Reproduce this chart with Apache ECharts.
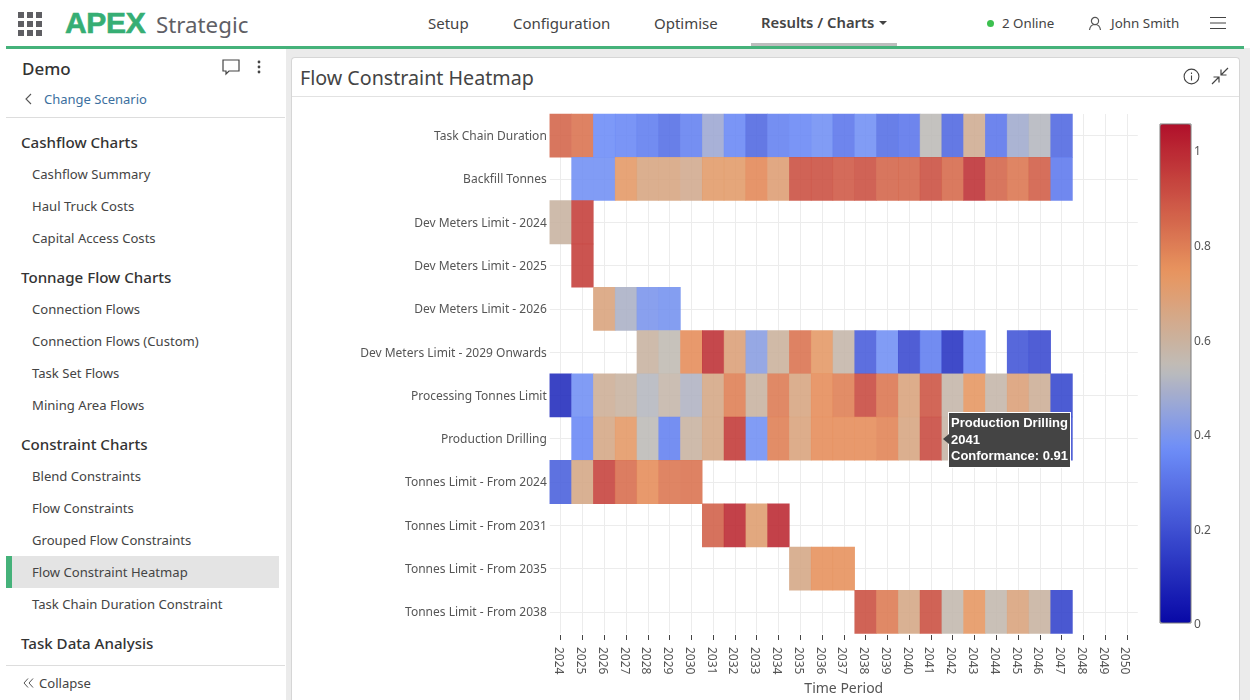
<!DOCTYPE html>
<html><head><meta charset="utf-8">
<script src="https://cdn.jsdelivr.net/npm/echarts@6/dist/echarts.min.js"></script>
<style>
html,body{margin:0;padding:0;width:1250px;height:700px;overflow:hidden;background:#fff;font-family:"Noto Sans",sans-serif;color:#444}
.a{position:absolute;white-space:nowrap}
#chart{position:absolute;left:0;top:0;width:1250px;height:700px;z-index:5}
.h{font-size:15.1px;font-weight:500;color:#333;line-height:22px}
.i{font-size:13.1px;color:#444;line-height:18px}
.n{font-size:15px;color:#444}
</style></head><body>
<div class="a" style="left:286px;top:48px;width:964px;height:652px;background:#ebebeb"></div>
<div class="a" style="left:291px;top:57px;width:947px;height:643px;background:#fff;border-radius:4px 4px 0 0;border:1px solid #d6d6d6;border-bottom:0"></div>
<div class="a" style="left:292px;top:96px;width:947px;height:1px;background:#e2e2e2"></div>
<div class="a" style="left:6px;top:46px;width:1238px;height:3px;background:#45b27a"></div>
<svg class="a" style="left:18px;top:12px" width="24" height="24" fill="#5f5f63"><rect x="0" y="0" width="6" height="6"/><rect x="9" y="0" width="6" height="6"/><rect x="18" y="0" width="6" height="6"/><rect x="0" y="9" width="6" height="6"/><rect x="9" y="9" width="6" height="6"/><rect x="18" y="9" width="6" height="6"/><rect x="0" y="18" width="6" height="6"/><rect x="9" y="18" width="6" height="6"/><rect x="18" y="18" width="6" height="6"/></svg>
<div class="a" style="left:65px;top:3px;font:bold 30px 'Liberation Sans';color:#36ae74;line-height:40px;letter-spacing:-.3px;-webkit-text-stroke:.6px #36ae74">APEX</div>
<div class="a" style="left:156px;top:6px;font-size:22.3px;line-height:38px;color:#5f5f66">Strategic</div>
<div class="a n" style="left:428px;top:13px">Setup</div>
<div class="a n" style="left:513px;top:13px">Configuration</div>
<div class="a n" style="left:654px;top:13px">Optimise</div>
<div class="a n" style="left:761px;top:12px;font-weight:600;font-size:14.8px">Results / Charts</div>
<div class="a" style="left:879px;top:21px;width:0;height:0;border:4px solid transparent;border-top-color:#444"></div>
<div class="a" style="left:751px;top:43px;width:146px;height:3px;background:#bdbdbd"></div>
<div class="a" style="left:987px;top:20px;width:7px;height:7px;border-radius:50%;background:#3cc04f"></div>
<div class="a" style="left:1002px;top:14px;font-size:13.3px">2 Online</div>
<svg class="a" style="left:1088px;top:16px" width="14" height="15" fill="none" stroke="#555" stroke-width="1.2"><circle cx="7" cy="5" r="3.6"/><path d="M1.5 14c.5-4 2.500-5.500 5.500-5.500s5 1.500 5.500 5.500"/></svg>
<div class="a" style="left:1111px;top:14px;font-size:13.4px">John Smith</div>
<svg class="a" style="left:1210px;top:16px" width="16" height="14" stroke="#444" stroke-width="1.2"><path d="M0 1.500h16M0 7h16M0 12.500h16"/></svg>

<div class="a" style="left:22px;top:57px;font-size:17px;font-weight:500;color:#333">Demo</div>
<svg class="a" style="left:222px;top:59px" width="18" height="17" fill="none" stroke="#444" stroke-width="1.2"><path d="M1 1h16v11H7l-3 3v-3H1z"/></svg>
<svg class="a" style="left:257px;top:60px" width="4" height="14" fill="#444"><circle cx="2" cy="2" r="1.400"/><circle cx="2" cy="7" r="1.400"/><circle cx="2" cy="12" r="1.400"/></svg>
<svg class="a" style="left:25px;top:93px" width="7" height="12" fill="none" stroke="#555" stroke-width="1.100"><path d="M6 1L1 6l5 5"/></svg>
<div class="a" style="left:44px;top:90px;font-size:13px;line-height:18px;color:#3b6f9e">Change Scenario</div>
<div class="a" style="left:6px;top:117px;width:279px;height:1px;background:#ddd"></div>
<div class="a h" style="left:21px;top:131px">Cashflow Charts</div>
<div class="a i" style="left:32px;top:165px">Cashflow Summary</div>
<div class="a i" style="left:32px;top:197px">Haul Truck Costs</div>
<div class="a i" style="left:32px;top:229px">Capital Access Costs</div>
<div class="a h" style="left:21px;top:266px">Tonnage Flow Charts</div>
<div class="a i" style="left:32px;top:300px">Connection Flows</div>
<div class="a i" style="left:32px;top:332px">Connection Flows (Custom)</div>
<div class="a i" style="left:32px;top:364px">Task Set Flows</div>
<div class="a i" style="left:32px;top:396px">Mining Area Flows</div>
<div class="a h" style="left:21px;top:433px">Constraint Charts</div>
<div class="a i" style="left:32px;top:467px">Blend Constraints</div>
<div class="a i" style="left:32px;top:499px">Flow Constraints</div>
<div class="a i" style="left:32px;top:531px">Grouped Flow Constraints</div>
<div class="a" style="left:6px;top:556px;width:273px;height:32px;background:#e4e4e4"></div>
<div class="a" style="left:6px;top:556px;width:6px;height:32px;background:#45b27a"></div>
<div class="a i" style="left:32px;top:563px">Flow Constraint Heatmap</div>
<div class="a i" style="left:32px;top:595px">Task Chain Duration Constraint</div>
<div class="a h" style="left:21px;top:632px">Task Data Analysis</div>
<div class="a" style="left:6px;top:665px;width:279px;height:1px;background:#ddd"></div>
<svg class="a" style="left:23px;top:678px" width="11" height="10" fill="none" stroke="#555"><path d="M5 .5L1 5l4 4.500M10 .5L6 5l4 4.500"/></svg>
<div class="a i" style="left:39px;top:674px">Collapse</div>

<div class="a" style="left:300px;top:64px;font-size:19.66px;line-height:27px;color:#444">Flow Constraint Heatmap</div>
<svg class="a" style="left:1183px;top:68px" width="17" height="17" fill="none" stroke="#444" stroke-width="1.100"><circle cx="8.500" cy="8.500" r="7.400"/><path d="M8.500 7.500v5M8.500 4.500v1.500"/></svg>
<svg class="a" style="left:1211px;top:67px" width="18" height="18" fill="none" stroke="#444" stroke-width="1.200"><path d="M17 1l-7 7M10 2.500v5.500h5.500M1 17l7-7M8 15.500v-5.500H2.500"/></svg>
<div id="chart"></div>
<script>
const years = [2024,2025,2026,2027,2028,2029,2030,2031,2032,2033,2034,2035,2036,2037,2038,2039,2040,2041,2042,2043,2044,2045,2046,2047,2048,2049,2050];
const constraints = ["Task Chain Duration","Backfill Tonnes","Dev Meters Limit - 2024","Dev Meters Limit - 2025","Dev Meters Limit - 2026","Dev Meters Limit - 2029 Onwards","Processing Tonnes Limit","Production Drilling","Tonnes Limit - From 2024","Tonnes Limit - From 2031","Tonnes Limit - From 2035","Tonnes Limit - From 2038"];
const _ = null;
const taskChainDuration   = [.85,.82,.37,.36,.33,.29,.34,.47,.36,.27,.34,.36,.38,.31,.38,.29,.31,.54,.27,.62,.31,.48,.52,.27];
const backfillTonnes      = [_,.38,.38,.72,.66,.66,.63,.71,.71,.77,.69,.90,.90,.88,.90,.85,.85,.90,.84,.97,.85,.81,.87,.32];
const devMeters2024       = [.59,.94];
const devMeters2025       = [_,.94];
const devMeters2026       = [_,_,.67,.50,.40,.39];
const devMeters2029On     = [_,_,_,_,.59,.55,.76,.97,.68,.43,.60,.82,.72,.57,.24,.38,.19,.33,.13,.35,_,.22,.19];
const processingTonnes    = [.11,.38,.61,.59,.52,.57,.51,.65,.79,.59,.80,.66,.76,.79,.91,.81,.67,.89,.57,.73,.57,.68,.61,.18];
const productionDrilling  = [_,.36,.65,.72,.54,.34,.59,.65,.95,.38,.79,.67,.76,.76,.76,.78,.66,.91,.58,.72,.57,.68,.60,.20];
const tonnesFrom2024      = [.25,.65,.93,.83,.76,.81,.82];
const tonnesFrom2031      = [_,_,_,_,_,_,_,.86,.99,.70,.99];
const tonnesFrom2035      = [_,_,_,_,_,_,_,_,_,_,_,.65,.75,.75];
const tonnesFrom2038      = [_,_,_,_,_,_,_,_,_,_,_,_,_,_,.90,.80,.65,.90,.56,.73,.56,.67,.59,.17];
const rows = [taskChainDuration,backfillTonnes,devMeters2024,devMeters2025,devMeters2026,devMeters2029On,processingTonnes,productionDrilling,tonnesFrom2024,tonnesFrom2031,tonnesFrom2035,tonnesFrom2038];
const colorbarTicks = [0,0.2,0.4,0.6,0.8,1];
const scaleMin = 0, scaleMax = 1.055;
const stops = [[0,'#0808a6'],[.37,'#6e8ef8'],[.54,'#bfbdb8'],[.74,'#e8965f'],[1.055,'#b0102a']];

function ramp(n){const out=[];for(let k=0;k<=n;k++){const v=scaleMax*k/n;let i=0;while(i<stops.length-2&&v>stops[i+1][0])i++;
  const t=(v-stops[i][0])/(stops[i+1][0]-stops[i][0]);out.push(echarts.color.lerp(t,[stops[i][1],stops[i+1][1]]));}return out;}
const cells=[];rows.forEach((r,y)=>r.forEach((v,x)=>{if(v!==null)cells.push([x,y,v]);}));
const font='"Noto Sans",sans-serif';
const grid='#ececec';
const chart=echarts.init(document.getElementById('chart'),null,{renderer:'canvas'});
chart.setOption({
  animation:false,
  backgroundColor:'transparent',
  grid:[{left:549.8,top:114,width:588,height:519.5,containLabel:false,outerBoundsMode:'none'},
        {left:1160,top:124,width:31,height:499,show:true,z:10,borderColor:'#7d7d7d',borderWidth:1,backgroundColor:'transparent',outerBoundsMode:'none'}],
  xAxis:[{type:'category',gridIndex:0,data:years.map(String),boundaryGap:true,offset:1.5,
      axisLine:{show:false},axisTick:{show:true,alignWithLabel:true,length:5,lineStyle:{color:'#444'}},
      splitLine:{show:true,alignWithLabel:true,lineStyle:{color:grid,width:1}},
      axisLabel:{rotate:-90,interval:0,margin:12,fontSize:12,color:'#555',fontFamily:font,
        formatter:'{t|{value}}',rich:{t:{padding:[4,0,0,0],fontSize:12,color:'#555',fontFamily:font}}},
      name:'Time Period',nameLocation:'middle',nameGap:47,nameTextStyle:{fontSize:14,color:'#555',fontFamily:font}},
    {type:'value',gridIndex:1,show:false,min:0,max:1}],
  yAxis:[{type:'category',gridIndex:0,data:constraints,inverse:true,boundaryGap:true,
      axisLine:{show:false},axisTick:{show:false},
      splitLine:{show:true,alignWithLabel:true,lineStyle:{color:grid,width:1}},
      axisLabel:{interval:0,margin:3,fontSize:12,color:'#555',fontFamily:font,
        formatter:'{t|{value}}',rich:{t:{padding:[2,0,0,0],fontSize:12,color:'#555',fontFamily:font}}}},
    {type:'value',gridIndex:1,position:'right',min:scaleMin,max:scaleMax,interval:.2,
      axisLine:{show:false},axisTick:{show:false},splitLine:{show:false},
      axisLabel:{margin:3,fontSize:12,color:'#555',fontFamily:font,
        rich:{t:{padding:[4,0,0,0],fontSize:12,color:'#555',fontFamily:font}},
        formatter:v=>colorbarTicks.includes(+v.toFixed(1))?`{t|${+v.toFixed(1)}}`:''}}],
  visualMap:{type:'continuous',min:scaleMin,max:scaleMax,seriesIndex:0,calculable:false,hoverLink:false,
    left:1160,top:124,itemWidth:31,itemHeight:499,padding:0,text:['',''],showLabel:false,
    inRange:{color:ramp(48)}},
  tooltip:{trigger:'item',alwaysShowContent:true,transitionDuration:0,showDelay:0,hideDelay:0,
    backgroundColor:'#444',borderColor:'#fff',borderWidth:1,padding:[2,2],
    textStyle:{color:'#fff',fontSize:13,fontFamily:'"Liberation Sans"',fontWeight:'bold'},
    extraCssText:'box-shadow:none;border-radius:0;line-height:16.500px;white-space:nowrap;',
    position:(p)=>[p[0]+17,p[1]-27],
    formatter:(q)=>`<div style="position:absolute;left:-6px;top:21px;width:0;height:0;border:5px solid transparent;border-left:0;border-right:6px solid #444"></div>${constraints[q.value[1]]}<br>${years[q.value[0]]}<br>Conformance: ${q.value[2].toFixed(2)}`},
  series:[{type:'heatmap',xAxisIndex:0,yAxisIndex:0,data:cells,itemStyle:{opacity:.9},emphasis:{disabled:true},progressive:0}]
});
const tipIndex=cells.findIndex(c=>constraints[c[1]]==='Production Drilling'&&years[c[0]]===2041);
chart.dispatchAction({type:'showTip',seriesIndex:0,dataIndex:tipIndex});
</script>
</body></html>
